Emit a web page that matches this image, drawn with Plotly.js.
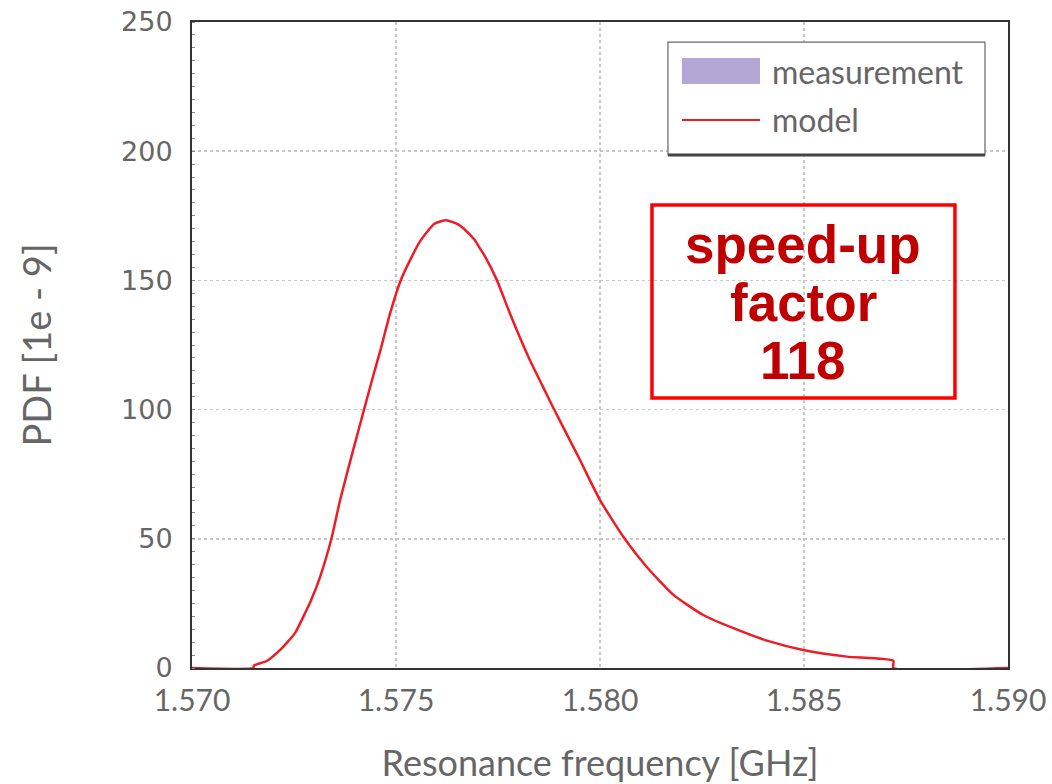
<!DOCTYPE html>
<html>
<head>
<meta charset="utf-8">
<script src="https://cdn.plot.ly/plotly-3.0.1.min.js"></script>
<style>html,body{margin:0;padding:0;background:#fff;}#chart{width:1052px;height:784px;}</style>
</head>
<body>
<div id="chart"></div>
<script>
// Model PDF curve (x in GHz, y in units of 1e-9)
const freqGHz = [1.5700, 1.5715, 1.57152, 1.57183, 1.57216, 1.57252, 1.57273, 1.57290, 1.57314, 1.57342, 1.57363, 1.57391, 1.57422, 1.57444, 1.57461, 1.57486, 1.57511, 1.57540, 1.57560, 1.57594, 1.57623, 1.57651, 1.57665, 1.57693, 1.57706, 1.57717, 1.57747, 1.57779, 1.57828, 1.57860, 1.57886, 1.57926, 1.57951, 1.57967, 1.58000, 1.58057, 1.58114, 1.58180, 1.58253, 1.58327, 1.58409, 1.58498, 1.58605, 1.58719, 1.58719, 1.59000];
const pdfModel = [0, 0, 1.0, 2.7, 7.0, 13.4, 19.9, 25.5, 35.3, 50.2, 65, 82, 100.2, 113, 122.5, 137.5, 149.8, 159.6, 165.4, 171.9, 173.3, 171.8, 170.2, 165.6, 162.3, 159.6, 150.2, 137.3, 119.2, 108.9, 100.5, 88.2, 80.5, 75.3, 65, 50.8, 39.2, 28.3, 20.5, 15.4, 10.6, 7.0, 4.4, 2.8, 0, 0];
const xTickVals = [1.570, 1.575, 1.580, 1.585, 1.590];
const xTickText = ['1.570', '1.575', '1.580', '1.585', '1.590'];
const yTickVals = [0, 50, 100, 150, 200, 250];
const legendNames = ['measurement', 'model'];
const legendColors = ['#b4a7d6', '#ee1c25'];
const annotationLines = ['speed-up', 'factor', '118'];

const traces = [
  {
    type: 'scatter', mode: 'lines', name: legendNames[1], x: freqGHz, y: pdfModel,
    line: {color: legendColors[1], width: 2.5, shape: 'spline', smoothing: 0.5},
    showlegend: false, cliponaxis: false
  }
];

const lblFont = {family: 'Lato, sans-serif', size: 32, color: '#666666'};
const annYs = [0.656, 0.566, 0.476];
const annotations = annotationLines.map((t, i) => ({
  xref: 'paper', yref: 'paper', x: 0.7488, y: annYs[i], xanchor: 'center', yanchor: 'middle',
  text: '<b>' + t + '</b>', showarrow: false,
  font: {family: 'Liberation Sans, Arial, sans-serif', size: 53, color: '#c00000'}
}));
// legend texts
annotations.push(
  {xref: 'paper', yref: 'paper', x: 0.7083, y: 0.9241, xanchor: 'left', yanchor: 'middle',
   text: legendNames[0], showarrow: false, font: lblFont},
  {xref: 'paper', yref: 'paper', x: 0.7083, y: 0.8483, xanchor: 'left', yanchor: 'middle',
   text: legendNames[1], showarrow: false, font: lblFont}
);

const layout = {
  width: 1052, height: 784,
  margin: {l: 192, r: 44, t: 22, b: 116},
  paper_bgcolor: '#ffffff', plot_bgcolor: '#ffffff',
  showlegend: false,
  xaxis: {
    range: [1.570, 1.590], tickvals: xTickVals, ticktext: xTickText,
    showgrid: true, gridcolor: '#c8c8c8', griddash: 'dot', gridwidth: 1.5,
    zeroline: false, showline: true, linecolor: '#333333', linewidth: 2, mirror: true,
    layer: 'below traces',
    ticks: '', ticklabelstandoff: 5,
    tickfont: {family: 'Lato, sans-serif', size: 30, color: '#666666'},
    title: {text: 'Resonance frequency [GHz]', standoff: 44,
      font: {family: 'Lato, sans-serif', size: 36, color: '#666666'}}
  },
  yaxis: {
    range: [0, 250], tickvals: yTickVals,
    showgrid: true, gridcolor: '#c8c8c8', griddash: 'dot', gridwidth: 1.5,
    zeroline: false, showline: true, linecolor: '#333333', linewidth: 2, mirror: true,
    layer: 'below traces',
    ticks: '', ticklabelstandoff: 12,
    tickfont: {family: 'DejaVu Sans, sans-serif', size: 27, color: '#666666'},
    minor: {dtick: 5, ticks: 'inside', ticklen: 3, tickcolor: '#888888', showgrid: false},
    title: {text: 'PDF [1e - 9]', standoff: 58,
      font: {family: 'Lato, sans-serif', size: 38, color: '#666666'}}
  },
  shapes: [
    // speed-up box
    {type: 'rect', xref: 'paper', yref: 'paper', x0: 0.5637, x1: 0.935, y0: 0.418, y1: 0.7167,
     line: {color: '#ff0000', width: 3.5}, fillcolor: 'rgba(0,0,0,0)'},
    // legend frame
    {type: 'rect', xref: 'paper', yref: 'paper', x0: 0.5833, x1: 0.9718, y0: 0.7941, y1: 0.9690,
     line: {color: '#666666', width: 1.2}, fillcolor: '#ffffff', layer: 'above'},
    {type: 'line', xref: 'paper', yref: 'paper', x0: 0.5833, x1: 0.9718, y0: 0.7941, y1: 0.7941,
     line: {color: '#444444', width: 3}, layer: 'above'},
    // legend swatches
    {type: 'rect', xref: 'paper', yref: 'paper', x0: 0.6005, x1: 0.6961, y0: 0.9040, y1: 0.9443,
     line: {width: 0}, fillcolor: legendColors[0], layer: 'above'},
    {type: 'line', xref: 'paper', yref: 'paper', x0: 0.6005, x1: 0.6961, y0: 0.8483, y1: 0.8483,
     line: {color: legendColors[1], width: 2}, layer: 'above'}
  ],
  annotations: annotations
};

Plotly.newPlot('chart', traces, layout, {displayModeBar: false, staticPlot: true});
</script>
</body>
</html>
